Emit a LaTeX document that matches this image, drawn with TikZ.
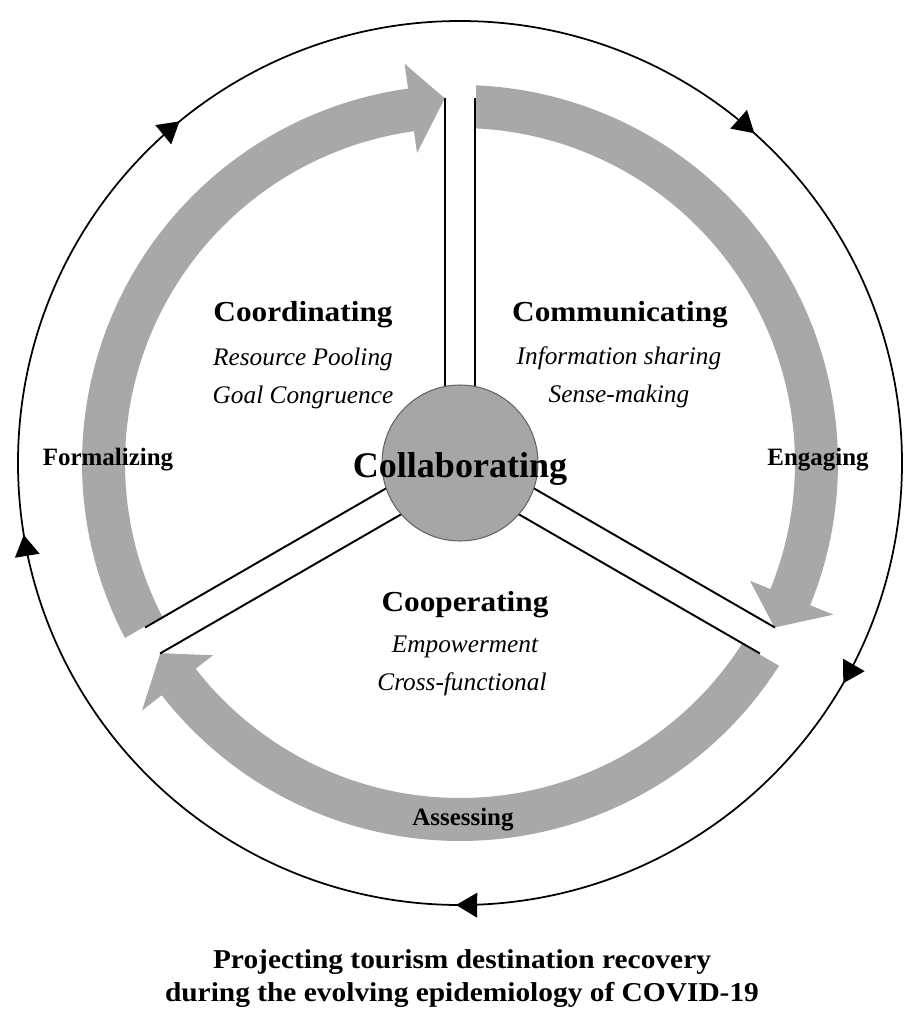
\documentclass[tikz,border=0pt]{standalone}
\usepackage{fontspec}
\setmainfont{Liberation Serif}
\newfontfamily\headfont{Liberation Serif}[FakeStretch=1.08]
\usetikzlibrary{arrows.meta, decorations.markings}

\definecolor{bandgray}{RGB}{168,168,168}
\definecolor{hubgray}{RGB}{166,166,166}
\definecolor{hubedge}{RGB}{100,100,100}

\tikzset{
  band/.style={fill=bandgray},
  gapline/.style={line width=1.1pt},
  hub/.style={circle, fill=hubgray, draw=hubedge, line width=0.6pt, minimum size=3.12cm, inner sep=0pt},
  hubtext/.style={anchor=base, font=\bfseries\fontsize{20.5}{24}\selectfont},
  phase/.style={anchor=base, font=\headfont\bfseries\fontsize{16.5}{19}\selectfont},
  practice/.style={anchor=base, font=\itshape\fontsize{14.4}{17}\selectfont},
  stage/.style={anchor=base, font=\bfseries\fontsize{14.2}{17}\selectfont},
  titletext/.style={anchor=base, font=\headfont\bfseries\fontsize{15.5}{19}\selectfont},
  ringtip/.tip={Triangle[length=12pt, width=14pt]},
  outerring/.style={line width=1pt, postaction={decorate},
    decoration={markings,
      mark=at position 0.083 with {\arrow{ringtip}},
      mark=at position 0.2514 with {\arrow{ringtip}},
      mark=at position 0.474 with {\arrow{ringtip}},
      mark=at position 0.6406 with {\arrow{ringtip}},
      mark=at position 0.866 with {\arrow{ringtip}}}}
}

\begin{document}
\begin{tikzpicture}[x=0.02cm, y=0.02cm]
\useasboundingbox (-460,-549) rectangle (445,463);

% the three gray arrows, each from one gap to the next
\foreach \g/\n/\r in {210/90/365, 90/-30/355, -30/-150/355}
  \fill[band] (\g-2.43:378) arc[start angle=\g-2.43, end angle=\n+7.9, radius=378]
    -- (\n+7.9:403) -- (\n+2.39:\r) -- (\n+7.9:313) -- (\n+7.9:335)
    arc[start angle=\n+7.9, end angle=\g-2.74, radius=335] -- cycle;

% double lines between the sectors
\foreach \a/\r in {90/365, -30/355, 210/355}
  \draw[gapline, rotate=\a] (60,15) -- (\r,15) (60,-15) -- (\r,-15);

\node[hub] (hub) at (0,0) {};
\node[hubtext] (collab) at (0,-14) {Collaborating};

\node[phase] (coord) at (-157,142) {Coordinating};
\node[practice] (pool) at (-157,98) {Resource Pooling};
\node[practice] (goal) at (-157,60) {Goal Congruence};

\node[phase] (comm) at (160,142) {Communicating};
\node[practice] (info) at (159,99) {Information sharing};
\node[practice] (sense) at (159,61) {Sense-making};

\node[phase] (coop) at (5,-148) {Cooperating};
\node[practice] (empow) at (5,-189) {Empowerment};
\node[practice] (cross) at (2,-227) {Cross-functional};

\node[stage] (formal) at (-352,-2) {Formalizing};
\node[stage] (engage) at (358,-2) {Engaging};
\node[stage] (assess) at (3,-362) {Assessing};

% outer cycle, running clockwise
\draw[outerring] (442,0) arc[start angle=0, end angle=-360, radius=442];

\node[titletext] (title1) at (2,-505) {Projecting tourism destination recovery};
\node[titletext] (title2) at (2,-538) {during the evolving epidemiology of COVID-19};
\end{tikzpicture}
\end{document}
